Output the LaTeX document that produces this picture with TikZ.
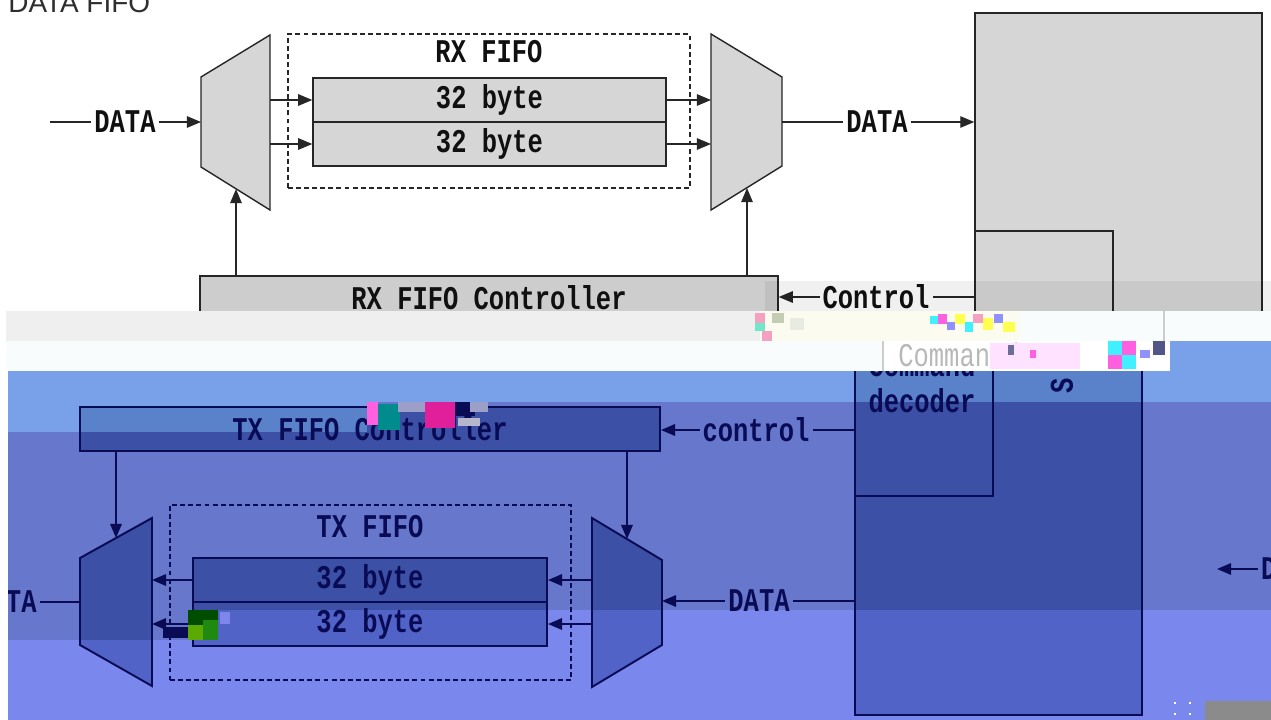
\documentclass[tikz,border=0pt]{standalone}
\usepackage{fontspec}
\usepackage{graphicx}
\setmainfont{Liberation Sans}
\newfontfamily\blockfont{Liberation Mono}
\usetikzlibrary{arrows.meta,fit}

% palette
\definecolor{wirec}{HTML}{262626}
\definecolor{textc}{HTML}{101010}
\definecolor{boxfill}{HTML}{D6D6D6}
\definecolor{ctrlfill}{HTML}{CDCDCD}
\definecolor{titlec}{HTML}{2E2E2E}
\definecolor{bandgray}{HTML}{EFEFEF}
\definecolor{bandwhite}{HTML}{F8FCFC}
\definecolor{bandyel}{HTML}{FBFBF0}
\definecolor{bandA}{HTML}{79A1E9}
\definecolor{bandB}{HTML}{6677CC}
\definecolor{bandC}{HTML}{7A88EE}
\definecolor{fillA}{HTML}{5A82CB}
\definecolor{fillB}{HTML}{3C50A6}
\definecolor{fillC}{HTML}{5263C8}
\definecolor{navy}{HTML}{0A0B55}
\definecolor{ghostc}{HTML}{B8B8B8}
\definecolor{ghostline}{HTML}{CCCCCC}
\definecolor{cornergray}{HTML}{8B8B8B}
% noise blocks
\definecolor{gpink}{HTML}{F4A0C0}
\definecolor{gmint}{HTML}{70E8C8}
\definecolor{gsage}{HTML}{C4CCB4}
\definecolor{gcyan}{HTML}{40F0FF}
\definecolor{gmag}{HTML}{FF60E0}
\definecolor{glpink}{HTML}{FFE2FF}
\definecolor{gyel}{HTML}{FFFF50}
\definecolor{gpurp}{HTML}{9090FF}
\definecolor{gteal}{HTML}{008C8C}
\definecolor{gmag2}{HTML}{E0209A}
\definecolor{gchk}{HTML}{9CA0C8}
\definecolor{gdkgreen}{HTML}{004D00}
\definecolor{glime}{HTML}{5AAA00}
\definecolor{ggreen}{HTML}{208A10}

\newcommand\tallt[1]{\scalebox{1}[1.3]{#1}}

\tikzset{
  x=0.02cm, y=-0.02cm,
  wirew/.style={line width=0.8pt},
  wire/.style={draw=wirec, wirew},
  arr/.style={wire, -{Triangle[length=8pt,width=6.5pt]}},
  blk/.style={wire, fill=boxfill, inner sep=0pt},
  lbl/.style={font=\blockfont\bfseries\fontsize{14.5}{16}\selectfont, text=textc, inner sep=1.5pt},
  frame/.style={wire, dash pattern=on 2.8pt off 1.8pt, inner sep=0pt},
}

% transmit path with the device block (coloured by the enclosing scope)
\newcommand\txlayer{%
  \node[blk, fit={(80,407) (660,451)}] (txctl) {};
  \node[lbl] (txctlt) at (txctl.center) {\tallt{TX FIFO Controller}};
  \draw[blk] (80,558) -- (152,518) -- (152,686) -- (80,645) -- cycle;
  \coordinate (txa-out) at (80,602);
  \coordinate (txa-i1) at (152,580);
  \coordinate (txa-i2) at (152,624);
  \coordinate (txa-ctl) at (116,538);
  \node[frame, fit={(170,505) (571,680)}] (txbox) {};
  \node[lbl] (txtitle) at (370,527) {\tallt{TX FIFO}};
  \node[blk, fit={(193,558) (547,602)}] (tx1) {};
  \node[blk, fit={(193,602) (547,646)}] (tx2) {};
  \node[lbl] (tx1t) at (tx1.center) {\tallt{32 byte}};
  \node[lbl] (tx2t) at (tx2.center) {\tallt{32 byte}};
  \draw[blk] (592,518) -- (662,560) -- (662,645) -- (592,687) -- cycle;
  \coordinate (txb-o1) at (592,580);
  \coordinate (txb-o2) at (592,624);
  \coordinate (txb-in) at (662,601);
  \coordinate (txb-ctl) at (627,539);
  \node[blk, fit={(855,300) (1142,715)}] (dev) {};
  \node[blk, fit={(855,300) (993,496)}] (cmd) {};
  \node[lbl, anchor=base] (cmdt1) at (922,376) {\tallt{Command}};
  \node[lbl, anchor=base] (cmdt2) at (922,412) {\tallt{decoder}};
  \node[lbl, rotate=90] (spit) at (1062,386) {\tallt{S}};
  \node[lbl] (txcl) at (756,430) {\tallt{control}};
  \draw[wire] (txcl -| dev.west) -- (txcl);
  \draw[arr] (txcl) -- (txcl -| txctl.east);
  \node[lbl] (txdin) at (759,601) {\tallt{DATA}};
  \draw[wire] (txdin -| dev.west) -- (txdin);
  \draw[arr] (txdin) -- (txb-in);
  \draw[arr] (txctl.south -| txa-ctl) -- (txa-ctl);
  \draw[arr] (txctl.south -| txb-ctl) -- (txb-ctl);
  \draw[arr] (txb-o1) -- (tx1.east);
  \draw[arr] (txb-o2) -- (tx2.east);
  \draw[arr] (tx1.west) -- (txa-i1);
  \draw[arr] (tx2.west) -- (txa-i2);
  \node[lbl] (txdout) at (6,602) {\tallt{DATA}};
  \draw[wire] (txa-out) -- (txdout);
  \node[lbl, anchor=west] (extd) at (1258,569) {\tallt{DATA}};
  \coordinate (extend) at (1217,569);
  \draw[arr] (extd) -- (extend);
}

\newcommand\bottomstyle[1]{%
  \colorlet{boxfill}{#1}\colorlet{wirec}{navy}\colorlet{textc}{navy}%
  \tikzset{wirew/.style={line width=1.1pt}}%
}

\begin{document}
\begin{tikzpicture}
\useasboundingbox (0,0) rectangle (1271,720);
\fill[white] (0,0) rectangle (1271,720);

% ---------- receive path ----------
\node[anchor=base west, inner sep=0pt, font=\fontsize{15.9}{18}\selectfont, text=titlec] (title) at (8,12) {DATA FIFO};

\draw[blk] (201,77) -- (270,35) -- (270,210) -- (201,167) -- cycle;
\coordinate (rxa-in) at (201,122);
\coordinate (rxa-o1) at (270,100);
\coordinate (rxa-o2) at (270,144);
\coordinate (rxa-ctl) at (236,189);

\node[frame, fit={(288,34) (690,188)}] (rxbox) {};
\node[lbl] (rxtitle) at (489,52) {\tallt{RX FIFO}};
\node[blk, fit={(313,78) (666,122)}] (rx1) {};
\node[blk, fit={(313,122) (666,166)}] (rx2) {};
\node[lbl] (rx1t) at (rx1.center) {\tallt{32 byte}};
\node[lbl] (rx2t) at (rx2.center) {\tallt{32 byte}};

\draw[blk] (711,34) -- (782,77) -- (782,166) -- (711,210) -- cycle;
\coordinate (rxb-i1) at (711,100);
\coordinate (rxb-i2) at (711,144);
\coordinate (rxb-out) at (782,122);
\coordinate (rxb-ctl) at (747,188);

\node[blk, fit={(975,13) (1262,330)}] (host) {};
\node[blk, fit={(975,231) (1113,330)}] (hostin) {};

\node[blk, fill=ctrlfill, fit={(200,276) (778,320)}] (rxctl) {};
\node[lbl] (rxctlt) at (rxctl.center) {\tallt{RX FIFO Controller}};

\coordinate (rxsrc) at (50,122);
\node[lbl] (rxdin) at (125,122) {\tallt{DATA}};
\draw[wire] (rxsrc) -- (rxdin);
\draw[arr] (rxdin) -- (rxa-in);

\draw[arr] (rxa-o1) -- (rx1.west);
\draw[arr] (rxa-o2) -- (rx2.west);
\draw[arr] (rx1.east) -- (rxb-i1);
\draw[arr] (rx2.east) -- (rxb-i2);

\node[lbl] (rxdout) at (877,122) {\tallt{DATA}};
\draw[wire] (rxb-out) -- (rxdout);
\draw[arr] (rxdout) -- (rxdout -| host.west);

\node[lbl] (rxcl) at (876,297) {\tallt{Control}};
\draw[wire] (rxcl -| host.west) -- (rxcl);
\draw[arr] (rxcl) -- (rxcl -| rxctl.east);

\draw[arr] (rxctl.north -| rxa-ctl) -- (rxa-ctl);
\draw[arr] (rxctl.north -| rxb-ctl) -- (rxb-ctl);

% ---------- shaded strips across the middle ----------
\fill[black, opacity=0.06] (765,281) rectangle (1271,311);
\fill[bandgray] (6,311) rectangle (760,341);
\fill[bandyel] (760,311) rectangle (1020,341);
\fill[bandwhite] (1020,311) rectangle (1271,341);
\draw[ghostline, line width=0.6pt] (1164,311) -- (1164,341);
\fill[bandwhite] (6,341) rectangle (883,371);
\fill[white] (883,341) rectangle (1170,371);
\draw[ghostline, line width=0.6pt] (883,341) -- (883,371);
\node[anchor=base west, inner sep=0pt, font=\blockfont\fontsize{14.5}{16}\selectfont, text=ghostc] (ghost1) at (898,366) {\tallt{Comman}};
\node[anchor=base west, inner sep=0pt, font=\blockfont\fontsize{14.5}{16}\selectfont, text=ghostc!60] (ghost2) at (1004,366) {\tallt{d}};

\foreach \gx/\gy/\gw/\gh/\gc in {
  755/313/10/10/gpink, 755/323/10/8/gmint, 762/331/10/10/gpink,
  772/313/12/10/gsage, 790/318/14/12/gsage!40,
  930/316/8/8/gcyan, 938/314/9/10/gmag, 947/322/8/8/gpurp,
  955/314/10/10/gyel, 965/322/8/10/gcyan, 973/314/10/9/gpink,
  983/318/10/12/gyel, 994/314/9/9/gpurp, 1003/322/12/10/gyel,
  990/343/90/26/glpink, 1008/345/6/10/navy!60, 1030/350/6/8/gmag,
  1108/341/14/14/gcyan, 1122/341/14/14/gmag, 1108/355/14/14/gmag,
  1122/355/14/14/gcyan, 1153/341/12/14/navy!70, 1140/350/10/8/gpurp}{
  \fill[\gc] (\gx,\gy) rectangle ++(\gw,\gh);
}

% ---------- transmit path under three tinted strips ----------
\begin{scope}
  \clip (8,371) -- (1170,371) -- (1170,341) -- (1271,341) -- (1271,402)
        -- (367,402) -- (367,432) -- (8,432) -- cycle;
  \fill[bandA] (0,330) rectangle (1271,720);
  \bottomstyle{fillA}
  \txlayer
\end{scope}
\begin{scope}
  \clip (8,432) -- (367,432) -- (367,402) -- (1271,402) -- (1271,610)
        -- (188,610) -- (188,640) -- (8,640) -- cycle;
  \fill[bandB] (0,330) rectangle (1271,720);
  \bottomstyle{fillB}
  \txlayer
\end{scope}
\begin{scope}
  \clip (8,640) -- (188,640) -- (188,610) -- (1271,610) -- (1271,720)
        -- (8,720) -- cycle;
  \fill[bandC] (0,330) rectangle (1271,720);
  \bottomstyle{fillC}
  \txlayer
\end{scope}
\fill[white] (0,371) rectangle (8,720);

\foreach \gx/\gy/\gw/\gh/\gc in {
  367/402/11/23/gmag, 378/404/22/26/gteal, 398/402/28/10/gchk,
  425/402/30/26/gmag2, 455/402/20/14/navy, 470/402/18/10/gchk,
  458/418/22/8/white!70!navy,
  188/610/30/15/gdkgreen, 188/625/15/15/glime, 203/620/15/20/ggreen,
  163/627/25/11/navy, 220/612/10/12/gpurp!60!bandB,
  1174/702/2/2/white, 1189/702/2/2/white, 1174/713/2/2/white, 1189/713/2/2/white}{
  \fill[\gc] (\gx,\gy) rectangle ++(\gw,\gh);
}
\fill[cornergray] (1205,701) rectangle (1271,720);
\end{tikzpicture}
\end{document}
